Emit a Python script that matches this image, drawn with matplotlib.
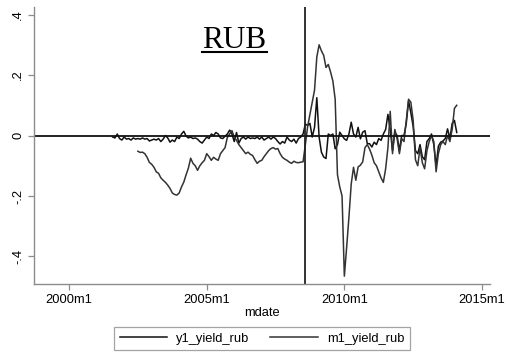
import numpy as np
import matplotlib
matplotlib.use("Agg")
import matplotlib.pyplot as plt
from matplotlib.lines import Line2D

# ── data: Stata monthly dates (months since 1960m1) ──────────────────────────
# series with the big swings, 2002m7 .. 2014m2
a_start = 510
a_vals = [
    -0.052, -0.056, -0.055, -0.060, -0.072, -0.089, -0.095, -0.105, -0.120, -0.125,
    -0.140, -0.148, -0.155, -0.164, -0.175, -0.190, -0.195, -0.197, -0.190, -0.170,
    -0.154, -0.130, -0.108, -0.075, -0.092, -0.100, -0.115, -0.100, -0.090, -0.082,
    -0.060, -0.070, -0.082, -0.072, -0.078, -0.082, -0.060, -0.050, -0.040, -0.006,
    0.005, 0.016, -0.005, -0.016, -0.030, -0.040, -0.050, -0.060, -0.055, -0.062,
    -0.066, -0.080, -0.092, -0.085, -0.082, -0.070, -0.060, -0.050, -0.043, -0.040,
    -0.045, -0.043, -0.060, -0.072, -0.078, -0.082, -0.088, -0.092, -0.085, -0.089,
    -0.090, -0.088, -0.087, -0.030, 0.030, 0.070, 0.110, 0.150, 0.260, 0.300,
    0.280, 0.265, 0.225, 0.235, 0.210, 0.180, 0.120, -0.130, -0.170, -0.200,
    -0.465, -0.370, -0.270, -0.160, -0.105, -0.148, -0.104, -0.098, -0.087, -0.040,
    -0.030, -0.045, -0.065, -0.090, -0.100, -0.120, -0.140, -0.155, -0.110, -0.040,
    0.080, -0.060, 0.020, -0.010, -0.060, -0.010, -0.020, 0.050, 0.120, 0.110,
    0.050, -0.080, -0.100, -0.040, -0.090, -0.110, -0.050, -0.020, 0.000, -0.020,
    -0.120, -0.060, -0.030, -0.020, -0.030, 0.000, -0.020, 0.020, 0.090, 0.100,
]

# noisy series, 2001m8 .. 2014m2
b_start = 499
b_vals = [
    -0.005, -0.008, 0.005, -0.010, -0.015, -0.005, -0.012, -0.010, -0.015, -0.008,
    -0.012, -0.010, -0.012, -0.008, -0.012, -0.010, -0.018, -0.015, -0.012, -0.015,
    -0.010, -0.020, -0.012, 0.000, -0.008, -0.022, -0.015, -0.020, -0.005, -0.010,
    0.005, 0.014, -0.002, -0.008, -0.005, -0.010, -0.008, -0.012, -0.020, -0.025,
    -0.015, -0.005, -0.010, 0.005, 0.000, 0.010, 0.005, -0.008, -0.010, -0.002,
    0.005, 0.018, 0.005, -0.020, 0.010, -0.025, -0.010, -0.005, -0.012, -0.005,
    -0.010, -0.008, -0.010, -0.005, -0.012, -0.005, -0.015, -0.010, -0.005, -0.012,
    -0.005, -0.010, -0.020, -0.028, -0.020, -0.025, -0.005, -0.015, -0.020, -0.012,
    -0.025, -0.010, -0.005, 0.005, 0.038, 0.033, 0.040, -0.005, 0.027, 0.125,
    -0.005, -0.055, -0.071, -0.076, 0.005, 0.000, 0.005, -0.044, -0.030, 0.011,
    0.000, -0.011, -0.016, 0.005, 0.044, 0.005, -0.005, 0.027, -0.011, 0.011,
    0.016, -0.027, -0.027, -0.038, -0.022, -0.030, -0.010, -0.016, 0.005, 0.020,
    0.070, 0.020, -0.050, 0.010, 0.000, -0.050, 0.000, 0.000, 0.040, 0.115,
    0.075, 0.030, -0.050, -0.060, -0.030, -0.070, -0.080, -0.020, -0.010, 0.005,
    -0.030, -0.100, -0.035, -0.022, -0.018, -0.010, 0.022, -0.010, 0.040, 0.050,
    0.010,
]

event_month = 583          # 2008m8
xtick_months = [480, 540, 600, 660]
xtick_labels = ["2000m1", "2005m1", "2010m1", "2015m1"]
ytick_vals = [-0.4, -0.2, 0.0, 0.2, 0.4]
ytick_labels = ["-.4", "-.2", "0", ".2", ".4"]

a_x = np.arange(a_start, a_start + len(a_vals))
b_x = np.arange(b_start, b_start + len(b_vals))

# ── plot ─────────────────────────────────────────────────────────────────────
plt.rcParams["font.family"] = ["Liberation Sans", "DejaVu Sans"]
W, H = 509, 359
fig = plt.figure(figsize=(W / 100, H / 100), dpi=100)
ax = fig.add_axes([34 / W, 1 - 284 / H, (490 - 34) / W, (284 - 7) / H])

axis_grey = "#8c8c8c"
l1, = ax.plot(b_x, b_vals, color="#111111", lw=1.1)
l2, = ax.plot(a_x, a_vals, color="#333333", lw=1.1)
ax.axhline(0, color="#111111", lw=1.3)
ax.axvline(event_month, color="#222222", lw=1.3)

ax.set_xlim(464.7, 663.5)
ax.set_ylim(-0.491, 0.425)
ax.set_xticks(xtick_months)
ax.set_xticklabels(xtick_labels, fontsize=9.3)
ax.set_yticks(ytick_vals)
ax.set_yticklabels(ytick_labels, fontsize=9.3, rotation=90, va="center")
ax.set_xlabel("mdate", fontsize=9.3, labelpad=1)
for s in ["top", "right"]:
    ax.spines[s].set_visible(False)
for s in ["left", "bottom"]:
    ax.spines[s].set_color(axis_grey)
    ax.spines[s].set_linewidth(1.0)
ax.tick_params(colors="black", length=4, width=0.9, pad=3)
ax.tick_params(axis="x", color=axis_grey)
ax.tick_params(axis="y", color=axis_grey)

# title, underlined just below the baseline
t = fig.text(234.5 / W, 1 - 48 / H, "RUB", family="Liberation Serif",
             fontsize=22.5, ha="center", va="baseline")
fig.canvas.draw()
bb = t.get_window_extent()
uy = 1 - 51.5 / H
fig.add_artist(Line2D([bb.x0 / W, bb.x1 / W], [uy, uy],
                      transform=fig.transFigure, color="black", lw=1.5))

leg = ax.legend([l1, l2], ["y1_yield_rub", "m1_yield_rub"], ncol=2,
                loc="center", bbox_to_anchor=(262 / W, 1 - 338.5 / H),
                bbox_transform=fig.transFigure, fontsize=9.3, frameon=True,
                fancybox=False, edgecolor=axis_grey, handlelength=3.7,
                columnspacing=1.6, handletextpad=0.7, borderpad=0.45)
leg.get_frame().set_linewidth(0.9)

fig.savefig("out.png", dpi=100)
